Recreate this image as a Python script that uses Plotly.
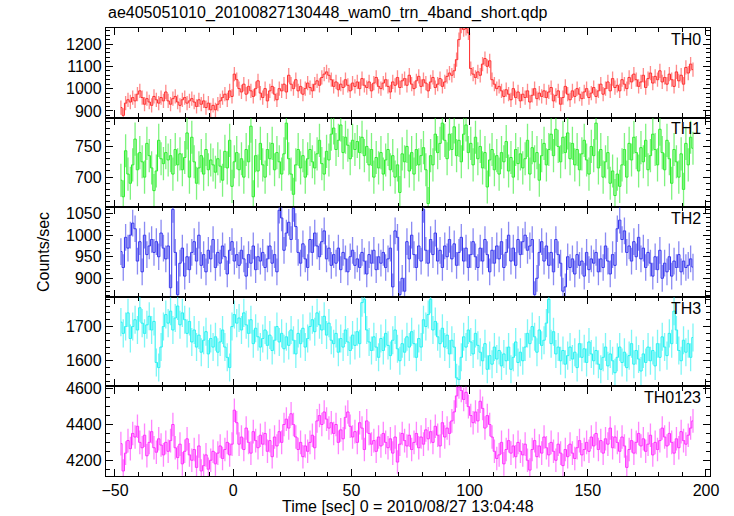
import numpy as np
import plotly.graph_objects as go
from plotly.subplots import make_subplots

TITLE = "ae405051010_20100827130448_wam0_trn_4band_short.qdp"
X_TITLE = "Time [sec] 0 = 2010/08/27 13:04:48"
Y_TITLE = "Counts/sec"
BANDS = ["TH0", "TH1", "TH2", "TH3", "TH0123"]
T_FIRST = -47.5   # centre of the first 1 s bin
T_BIN = 1.0

TH0 = [
    915, 880, 935, 950, 940, 960, 945, 975, 990, 960,
    930, 955, 940, 925, 965, 950, 935, 960, 945, 985,
    945, 930, 955, 965, 940, 925, 950, 960, 935, 945,
    955, 940, 920, 950, 930, 945, 915, 935, 905, 925,
    905, 930, 945, 960, 975, 950, 990, 965, 1065, 1040,
    1000, 985, 1020, 975, 1010, 990, 965, 1000, 1035, 980,
    960, 1000, 945, 990, 1010, 975, 950, 1000, 990, 1020,
    985, 1060, 1020, 1000, 1040, 990, 1010, 975, 1000, 1025,
    1005, 990, 1020, 1035, 1015, 1050, 1065, 1075, 1060, 1040,
    1010, 1030, 995, 1020, 1005, 1040, 1015, 990, 1025, 1010,
    1030, 1000, 1045, 1015, 1005, 1030, 990, 1025, 1050, 1010,
    1000, 1025, 1040, 1010, 985, 1030, 1015, 1050, 1005, 1035,
    1045, 1015, 1060, 1020, 1000, 1035, 1055, 1010, 1040, 1025,
    990, 1030, 1050, 1005, 1020, 1045, 1010, 1030, 1055, 1070,
    1060, 1080, 1130, 1220, 1280, 1265, 1270, 1250, 1090, 1065,
    1050, 1075, 1060, 1110, 1135, 1100, 1125, 1040, 1020, 1000,
    1010, 990, 965, 995, 975, 950, 1000, 960, 985, 945,
    975, 960, 990, 940, 970, 1000, 955, 980, 965, 990,
    960, 985, 1005, 945, 970, 990, 930, 960, 1010, 975,
    950, 990, 965, 1000, 975, 955, 985, 1000, 960, 980,
    1005, 965, 990, 1020, 975, 1000, 1030, 990, 1045, 1005,
    1015, 990, 1040, 1020, 1000, 1050, 1030, 1065, 1040, 1010,
    1030, 1060, 1005, 1045, 1070, 1025, 1055, 1040, 1080, 1030,
    1050, 1020, 1065, 1040, 1010, 1075, 1035, 1060, 1020, 1095,
    1070, 1110, 1085,
]

TH1 = [
    695, 668, 743, 705, 690, 720, 762, 712, 740, 725,
    700, 755, 735, 715, 678, 710, 760, 730, 722, 740,
    728, 735, 705, 745, 720, 738, 712, 732, 772, 700,
    765, 725, 690, 715, 735, 705, 745, 712, 728, 720,
    708, 730, 718, 695, 742, 715, 760, 685, 725, 740,
    712, 730, 700, 745, 725, 783, 668, 735, 710, 755,
    720, 700, 745, 730, 755, 712, 740, 725, 705, 738,
    788, 730, 705, 672, 720, 745, 715, 735, 700, 730,
    745, 725, 715, 738, 760, 722, 705, 742, 728, 770,
    780, 745, 760, 785, 740, 765, 752, 730, 760, 745,
    758, 740, 765, 735, 750, 720, 745, 700, 732, 715,
    740, 705, 728, 745, 712, 735, 700, 720, 675, 738,
    725, 750, 710, 740, 705, 745, 720, 735, 748, 712,
    657, 735, 720, 770, 740, 755, 788, 760, 730, 770,
    745, 782, 735, 760, 725, 770, 785, 740, 755, 720,
    765, 730, 750, 715, 740, 684, 728, 745, 712, 735,
    705, 740, 725, 758, 710, 732, 700, 745, 722, 738,
    715, 730, 760, 705, 748, 725, 740, 695, 735, 755,
    720, 745, 770, 735, 778, 750, 725, 765, 740, 772,
    730, 755, 720, 745, 712, 738, 760, 728, 705, 750,
    735, 788, 715, 745, 700, 725, 740, 690, 710, 670,
    705, 685, 720, 745, 700, 755, 728, 765, 740, 710,
    748, 725, 760, 712, 735, 770, 745, 720, 778, 740,
    712, 760, 730, 690, 745, 725, 700, 738, 680, 755,
    720, 765, 747,
]

TH2 = [
    962, 925, 995, 970, 1000, 1028, 1015, 940, 985, 915,
    1000, 955, 975, 990, 960, 985, 950, 1005, 970, 945,
    975, 878, 1060, 960, 862, 935, 970, 905, 950, 920,
    960, 985, 940, 1000, 930, 955, 915, 965, 945, 990,
    925, 960, 935, 975, 950, 910, 965, 985, 940, 955,
    930, 965, 945, 905, 955, 935, 975, 920, 950, 940,
    960, 925, 945, 975, 935, 955, 915, 1058, 1040, 965,
    1005, 1030, 990, 1062, 1020, 960, 935, 980, 945, 925,
    990, 960, 1005, 975, 950, 985, 1010, 945, 970, 930,
    955, 935, 970, 920, 960, 945, 915, 950, 965, 930,
    945, 925, 960, 940, 910, 955, 935, 965, 920, 950,
    935, 960, 925, 945, 970, 880, 1010, 995, 862, 900,
    870, 985, 945, 1000, 955, 925, 975, 940, 1060, 965,
    935, 990, 955, 1005, 940, 965, 925, 975, 950, 990,
    945, 980, 930, 960, 995, 940, 970, 925, 955, 985,
    950, 925, 970, 940, 990, 955, 915, 965, 935, 975,
    945, 985, 925, 960, 1000, 940, 970, 930, 990, 955,
    985, 1000, 965, 975, 990, 862, 900, 960, 985, 940,
    975, 930, 960, 915, 990, 955, 935, 870, 880, 950,
    925, 945, 910, 955, 930, 940, 905, 960, 920, 945,
    935, 960, 915, 945, 925, 975, 940, 910, 955, 930,
    1015, 1035, 990, 1010, 960, 975, 940, 985, 950, 995,
    945, 970, 925, 960, 935, 905, 950, 920, 965, 900,
    935, 915, 950, 905, 940, 925, 955, 915, 940, 925,
    930, 945, 926,
]

TH3 = [
    1713, 1680, 1700, 1740, 1665, 1700, 1720, 1690, 1755, 1710,
    1680, 1705, 1730, 1690, 1715, 1595, 1580, 1640, 1700, 1735,
    1710, 1745, 1690, 1725, 1760, 1705, 1740, 1720, 1680, 1715,
    1655, 1690, 1640, 1675, 1625, 1660, 1685, 1620, 1665, 1640,
    1670, 1625, 1655, 1690, 1640, 1610, 1580, 1700, 1735, 1710,
    1725, 1690, 1740, 1705, 1680, 1720, 1650, 1695, 1670, 1640,
    1665, 1690, 1645, 1675, 1630, 1660, 1700, 1655, 1680, 1635,
    1670, 1645, 1690, 1660, 1620, 1680, 1650, 1695, 1640, 1665,
    1700, 1720, 1685, 1740, 1705, 1690, 1730, 1675, 1710, 1660,
    1650, 1680, 1625, 1665, 1640, 1690, 1655, 1630, 1675, 1645,
    1685, 1650, 1770, 1780, 1690, 1655, 1630, 1670, 1640, 1610,
    1665, 1630, 1680, 1645, 1615, 1660, 1690, 1635, 1600, 1650,
    1625, 1670, 1640, 1685, 1650, 1610, 1665, 1640, 1720, 1700,
    1735, 1780, 1690, 1715, 1670, 1650, 1695, 1640, 1675, 1620,
    1660, 1640, 1550, 1545, 1610, 1670, 1640, 1690, 1655, 1620,
    1680, 1645, 1625, 1600, 1650, 1575, 1615, 1590, 1640, 1605,
    1630, 1585, 1620, 1600, 1640, 1575, 1610, 1655, 1595, 1625,
    1600, 1640, 1680, 1650, 1700, 1670, 1625, 1690, 1645, 1660,
    1710, 1780, 1650, 1685, 1620, 1640, 1600, 1630, 1590, 1615,
    1640, 1605, 1625, 1580, 1650, 1610, 1635, 1595, 1655, 1620,
    1600, 1630, 1590, 1575, 1610, 1640, 1585, 1620, 1600, 1565,
    1610, 1640, 1595, 1625, 1580, 1615, 1650, 1590, 1630, 1605,
    1570, 1620, 1595, 1640, 1600, 1630, 1585, 1650, 1610, 1670,
    1640, 1615, 1680, 1650, 1745, 1690, 1630, 1600, 1660, 1625,
    1650, 1610, 1668,
]

TH0123 = [
    4293, 4140, 4240, 4310, 4265, 4350, 4330, 4390, 4300, 4270,
    4340, 4225, 4300, 4360, 4270, 4245, 4320, 4285, 4230, 4300,
    4250, 4310, 4400, 4270, 4215, 4290, 4180, 4250, 4320, 4230,
    4200, 4260, 4160, 4280, 4140, 4170, 4230, 4150, 4200, 4250,
    4180, 4240, 4280, 4210, 4260, 4300, 4230, 4290, 4480, 4410,
    4290, 4330, 4260, 4380, 4300, 4240, 4360, 4310, 4270, 4340,
    4290, 4350, 4250, 4310, 4220, 4330, 4280, 4360, 4300, 4400,
    4430, 4380, 4460, 4400, 4330, 4260, 4300, 4220, 4280, 4250,
    4300, 4340, 4270, 4420, 4450, 4400, 4470, 4430, 4380, 4410,
    4350, 4400, 4300, 4370, 4320, 4440, 4470, 4390, 4330, 4360,
    4300, 4410, 4380, 4260, 4420, 4350, 4290, 4310, 4250, 4330,
    4280, 4350, 4300, 4270, 4320, 4240, 4330, 4190, 4290, 4350,
    4310, 4280, 4340, 4260, 4300, 4350, 4270, 4330, 4290, 4370,
    4320, 4360, 4300, 4390, 4340, 4280, 4410, 4330, 4380, 4350,
    4420, 4470, 4560, 4610, 4590, 4540, 4580, 4500, 4450, 4410,
    4470, 4420, 4530, 4490, 4380, 4450, 4400, 4330, 4250, 4210,
    4230, 4300, 4180, 4260, 4310, 4240, 4280, 4220, 4300, 4250,
    4230, 4290, 4200, 4145, 4260, 4310, 4220, 4280, 4240, 4330,
    4270, 4230, 4300, 4250, 4200, 4290, 4240, 4170, 4260, 4220,
    4290, 4240, 4210, 4270, 4310, 4230, 4260, 4300, 4250, 4330,
    4280, 4350, 4260, 4310, 4240, 4320, 4290, 4380, 4270, 4330,
    4300, 4250, 4330, 4280, 4160, 4260, 4310, 4240, 4300, 4350,
    4280, 4320, 4250, 4290, 4340, 4230, 4300, 4260, 4310, 4380,
    4330, 4280, 4350, 4300, 4240, 4320, 4270, 4360, 4310, 4290,
    4340, 4380, 4420,
]

# 1-sigma error half-widths
ERRORS = [32, 27, 31, 41, 66]

SERIES = [TH0, TH1, TH2, TH3, TH0123]
COLORS = ["#ff2a2a", "#2aee2a", "#3333ee", "#22f2f2", "#ff2aff"]
ERR_COLORS = ["rgba(255,60,60,0.6)", "rgba(40,235,40,0.6)", "rgba(60,60,235,0.6)",
              "rgba(40,240,240,0.6)", "rgba(255,50,255,0.6)"]
Y_RANGES = [[870, 1272], [651, 797], [857, 1065], [1525, 1787], [4112, 4613]]
Y_TICKS = [[900, 1000, 1100, 1200], [700, 750], [900, 950, 1000, 1050], [1600, 1700], [4200, 4400, 4600]]
Y_MINOR = [20, 10, 10, 20, 50]
X_RANGE = [-53.8, 201.7]

FONT = "Liberation Sans, Arial, Helvetica, sans-serif"
FS = 16

fig = make_subplots(rows=5, cols=1, shared_xaxes=True, vertical_spacing=0)

for i, vals in enumerate(SERIES):
    t = T_FIRST + T_BIN * np.arange(len(vals))
    fig.add_trace(go.Scatter(
        x=t, y=vals, mode="lines", line=dict(color=COLORS[i], width=1, shape="hvh"),
        error_y=dict(type="constant", value=ERRORS[i], thickness=1.3, width=0, color=ERR_COLORS[i]),
        showlegend=False, hoverinfo="skip"), row=i + 1, col=1)
    fig.update_yaxes(
        range=Y_RANGES[i], tickvals=Y_TICKS[i], ticks="inside", ticklen=7, tickwidth=1,
        tickcolor="black", showline=True, linecolor="black", linewidth=1.3, mirror="ticks",
        showgrid=False, zeroline=False,
        minor=dict(dtick=Y_MINOR[i], tick0=0, ticks="inside", ticklen=4, tickcolor="black", showgrid=False),
        tickfont=dict(family=FONT, size=FS, color="black"),
        row=i + 1, col=1)
    fig.update_xaxes(
        range=X_RANGE, dtick=50, tick0=0, ticks="inside", ticklen=7, tickwidth=1,
        tickcolor="black", showline=True, linecolor="black", linewidth=1.3, mirror="ticks",
        showgrid=False, zeroline=False,
        minor=dict(dtick=10, tick0=0, ticks="inside", ticklen=4, tickcolor="black", showgrid=False),
        tickfont=dict(family=FONT, size=FS, color="black"),
        showticklabels=(i == 4),
        row=i + 1, col=1)
    yref = "y domain" if i == 0 else f"y{i + 1} domain"
    xref = "x domain" if i == 0 else f"x{i + 1} domain"
    fig.add_annotation(text=BANDS[i], xref=xref, yref=yref, x=0.988, y=0.99,
                       xanchor="right", yanchor="top", showarrow=False,
                       font=dict(family=FONT, size=FS, color="black"))

fig.add_annotation(text=TITLE, xref="paper", yref="paper", x=0, y=1, yshift=15,
                   xanchor="left", yanchor="middle", showarrow=False,
                   font=dict(family=FONT, size=FS, color="black"))
fig.add_annotation(text=X_TITLE, xref="paper", yref="paper", x=0.5, y=0, yshift=-30,
                   xanchor="center", yanchor="middle", showarrow=False,
                   font=dict(family=FONT, size=FS, color="black"))
fig.add_annotation(text=Y_TITLE, xref="paper", yref="paper", x=0, xshift=-63, y=0.5,
                   xanchor="center", yanchor="middle", textangle=-90, showarrow=False,
                   font=dict(family=FONT, size=FS, color="black"))

fig.update_layout(width=734, height=516, margin=dict(l=106, r=24, t=28, b=40),
                  paper_bgcolor="white", plot_bgcolor="white")
# remove the default 8 px page margin so the figure fills the window exactly
fig.write_html("out.html", config={"displayModeBar": False},
               post_script="document.body.style.margin='0px';document.body.style.overflow='hidden';")
